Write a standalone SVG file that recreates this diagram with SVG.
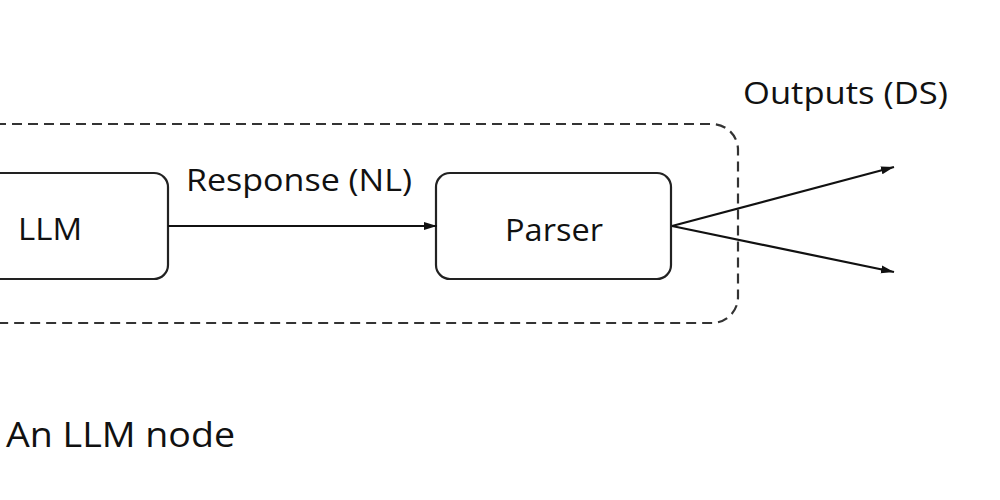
<svg xmlns="http://www.w3.org/2000/svg" width="1000" height="500" viewBox="0 0 1000 500">
<style>
text{font-family:"Open Sans","Liberation Sans",sans-serif;fill:#111;}
.box{fill:#fff;stroke:#222;stroke-width:2.2;}
.edge{stroke:#111;stroke-width:2.2;fill:none;}
</style>
<defs>
<marker id="ah" viewBox="0 0 13 10" refX="13" refY="5" markerWidth="13" markerHeight="10" markerUnits="userSpaceOnUse" orient="auto">
<path d="M0,1 L13,5 L0,9 z" fill="#111"/>
</marker>
</defs>
<rect width="1000" height="500" fill="#fff"/>
<g id="container">
<rect x="-30" y="124" width="768" height="199" rx="26" fill="none" stroke="#333" stroke-width="2.2" stroke-dasharray="10 6"/>
</g>
<g id="llm">
<rect class="box" x="-20" y="173" width="188" height="106" rx="14"/>
<text x="18" y="240" font-size="31" textLength="64" lengthAdjust="spacingAndGlyphs">LLM</text>
</g>
<g id="parser">
<rect class="box" x="436" y="173" width="235" height="106" rx="14"/>
<text x="505" y="241" font-size="31" textLength="98" lengthAdjust="spacingAndGlyphs">Parser</text>
</g>
<g id="connectors">
<line class="edge" x1="168" y1="226" x2="437" y2="226" marker-end="url(#ah)"/>
<line class="edge" x1="672" y1="226" x2="894" y2="167" marker-end="url(#ah)"/>
<line class="edge" x1="672" y1="226" x2="894" y2="272" marker-end="url(#ah)"/>
</g>
<text x="186" y="191" font-size="31" textLength="226" lengthAdjust="spacingAndGlyphs">Response (NL)</text>
<text x="743" y="104" font-size="31" textLength="205" lengthAdjust="spacingAndGlyphs">Outputs (DS)</text>
<text x="6" y="447" font-size="35" textLength="229" lengthAdjust="spacingAndGlyphs">An LLM node</text>
</svg>
